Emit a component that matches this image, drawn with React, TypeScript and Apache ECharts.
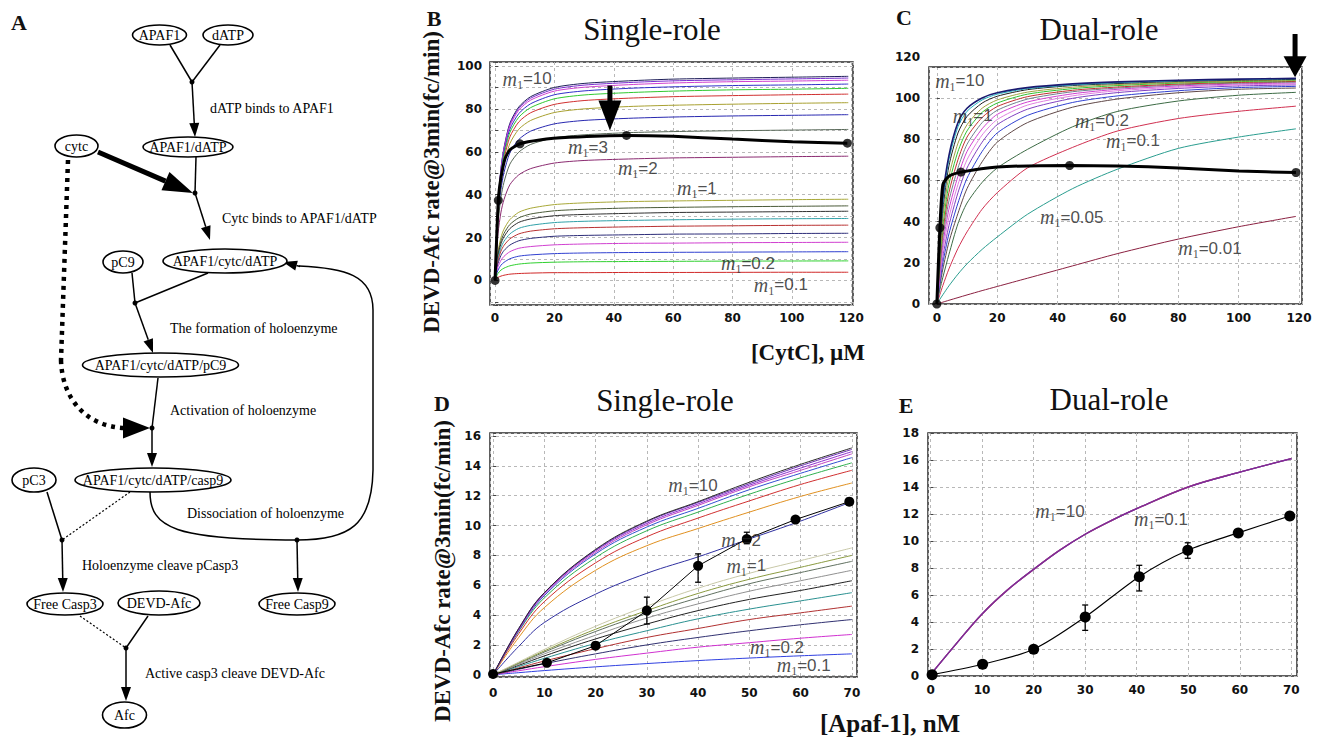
import React, { useEffect, useRef } from 'react';
import * as echarts from 'echarts';

// ---------------- Panel B : Single-role, rate vs [CytC] ----------------
const xB = [0, 0.5, 1, 2, 3, 5, 8, 12, 20, 30, 45, 60, 80, 100, 119];
const bValues: number[][] = [
  [0, 20.0, 36.2, 52.4, 61.9, 73.4, 81.0, 85.8, 90.1, 92.0, 93.2, 94.0, 94.5, 94.9, 95.3],
  [0, 19.8, 35.9, 52.0, 61.4, 72.8, 80.3, 85.1, 89.3, 91.2, 92.4, 93.2, 93.7, 94.1, 94.5],
  [0, 19.6, 35.5, 51.4, 60.8, 72.0, 79.5, 84.2, 88.4, 90.2, 91.4, 92.2, 92.8, 93.1, 93.5],
  [0, 19.3, 34.8, 50.4, 59.6, 70.6, 77.9, 82.5, 86.7, 88.5, 89.7, 90.4, 91.0, 91.3, 91.7],
  [0, 18.8, 34.1, 49.3, 58.3, 69.1, 76.2, 80.7, 84.8, 86.6, 87.7, 88.4, 89.0, 89.3, 89.7],
  [0, 18.3, 33.1, 47.9, 56.6, 67.0, 74.0, 78.3, 82.2, 84.0, 85.1, 85.8, 86.3, 86.7, 87.0],
  [0, 17.4, 31.5, 45.7, 54.0, 63.9, 70.6, 74.7, 78.4, 80.1, 81.2, 81.8, 82.3, 82.7, 83.0],
  [0, 16.3, 29.4, 42.6, 50.3, 59.6, 65.8, 69.7, 73.1, 74.7, 75.7, 76.3, 76.8, 77.1, 77.4],
  [0, 14.8, 26.8, 38.8, 45.8, 54.3, 59.9, 63.5, 66.6, 68.0, 69.0, 69.5, 69.9, 70.2, 70.5],
  [0, 12.2, 22.0, 31.9, 37.7, 44.7, 49.3, 52.2, 54.8, 56.0, 56.7, 57.2, 57.5, 57.8, 58.0],
  [0, 7.6, 13.6, 20.1, 23.9, 28.4, 31.8, 33.7, 35.4, 36.2, 36.8, 37.1, 37.4, 37.7, 37.9],
  [0, 7.0, 12.5, 18.4, 21.9, 26.1, 29.2, 31.0, 32.5, 33.2, 33.8, 34.1, 34.4, 34.6, 34.8],
  [0, 6.5, 11.6, 17.1, 20.3, 24.2, 27.1, 28.7, 30.2, 30.8, 31.3, 31.7, 31.9, 32.1, 32.3],
  [0, 5.8, 10.4, 15.3, 18.2, 21.7, 24.3, 25.7, 27.0, 27.6, 28.0, 28.3, 28.6, 28.8, 28.9],
  [0, 5.2, 9.3, 13.7, 16.3, 19.4, 21.7, 23.0, 24.1, 24.6, 25.0, 25.3, 25.5, 25.7, 25.8],
  [0, 4.4, 7.9, 11.7, 13.9, 16.5, 18.5, 19.6, 20.6, 21.0, 21.3, 21.6, 21.7, 21.9, 22.0],
  [0, 3.6, 6.4, 9.4, 11.2, 13.4, 15.0, 15.8, 16.6, 17.0, 17.3, 17.4, 17.6, 17.7, 17.8],
  [0, 2.7, 4.8, 7.1, 8.4, 10.1, 11.3, 11.9, 12.5, 12.8, 13.0, 13.1, 13.2, 13.3, 13.4],
  [0, 1.8, 3.3, 4.8, 5.7, 6.8, 7.6, 8.1, 8.5, 8.7, 8.8, 8.9, 9.0, 9.05, 9.1],
  [0, 0.8, 1.4, 2.0, 2.4, 2.9, 3.2, 3.4, 3.6, 3.6, 3.7, 3.7, 3.75, 3.8, 3.8],
];
const bColors = [
  '#20205a', '#7b2fd0', '#d040d0', '#3030c8', '#30c830', '#d03030', '#a8a030', '#2828b0', '#586858', '#8a2a70',
  '#a8a838', '#4a5a38', '#303030', '#30a0a8', '#b83030', '#2c2c78', '#d040d0', '#3040d0', '#30d030', '#d02828',
];
const bBlackX = [0, 1.1, 2, 3.4, 5, 8.4, 15, 25, 44.3, 60, 80, 100, 118.7];
const bBlackY = [0, 37.4, 48, 57, 61, 63.8, 65.6, 66.8, 67.7, 67.3, 66, 64.8, 64.1];
const bDots = [[0, 0], [1.1, 37.4], [8.4, 63.8], [44.3, 67.7], [118.7, 64.1]];
const bLabels: [number, number, string][] = [
  [10.8, 94.2, '10'], [31.3, 62.1, '3'], [48.1, 52.3, '2'], [68, 43, '1'], [85.2, 8.1, '0.2'], [96.3, -2.1, '0.1'],
];
const bArrow = { x: 38.7, top: 91, tip: 70 };

// ---------------- Panel C : Dual-role, rate vs [CytC] ----------------
const xC = [0, 1, 2, 4, 7, 10, 15, 20, 30, 45, 60, 80, 100, 119];
const cValues: number[][] = [
  [0, 0.45, 0.9, 1.8, 3.1, 4.4, 6.5, 8.5, 12.5, 18.5, 24.5, 31.5, 37.5, 42.5],
  [0, 2.3, 4.5, 8.8, 14.5, 19.5, 26.5, 32.5, 43.5, 56, 65.5, 75.5, 81, 85],
  [0, 4.5, 9, 17, 27, 35, 46, 54, 66, 76, 84, 90, 93.5, 96],
  [0, 7, 13, 24, 39, 49, 59, 66, 75, 86, 93.5, 98.5, 101.3, 102.7],
  [0, 9, 17, 30, 44, 56, 69, 78.5, 88, 95.5, 99.5, 102.5, 104.2, 104.8],
  [0, 10, 20, 34, 49, 61, 74, 83, 91.5, 97.8, 101, 103.5, 105, 105.6],
  [0, 12, 23, 38, 54, 66, 78.5, 87, 94.5, 99.8, 102.6, 104.6, 105.8, 106.3],
  [0, 13, 26, 42, 58, 70, 82, 89.5, 96.5, 101, 103.5, 105.2, 106.3, 106.8],
  [0, 15, 29, 46, 62, 74, 85, 92, 98, 102, 104.2, 105.8, 106.8, 107.3],
  [0, 17, 32, 50, 66, 77.5, 88, 94, 99.4, 103, 104.8, 106.3, 107.2, 107.7],
  [0, 19, 35, 54, 70, 81, 90.5, 95.8, 100.6, 103.7, 105.3, 106.7, 107.5, 108],
  [0, 21, 38, 58, 74, 84, 93, 97.5, 101.8, 104.5, 106, 107.2, 107.9, 108.4],
  [0, 23, 42, 62, 78, 87, 95, 99, 102.8, 105.2, 106.5, 107.5, 108.2, 108.7],
  [0, 26, 46, 67, 83, 91, 97.5, 100.8, 104, 106, 107, 108, 108.6, 109],
  [0, 28, 49, 70, 86, 93.5, 99, 101.8, 104.5, 106.3, 107.4, 108.3, 108.9, 109.3],
  [0, 30, 52, 72, 88, 95, 100, 102.5, 105, 106.8, 107.8, 108.6, 109.1, 109.5],
];
const cColors = [
  '#8a2040', '#2a9d8f', '#d03050', '#3d6b45', '#604848', '#3040d0', '#8040c0', '#e080e0', '#d040d0',
  '#708090', '#c03030', '#30c030', '#a0a040', '#202020', '#20b0c0', '#1a1a70',
];
const cBlackX = [0, 1, 2, 4, 8, 20, 44, 60, 80, 100, 119];
const cBlackY = [0, 37, 58, 62, 64, 66.5, 67.2, 67, 66, 64.5, 63.8];
const cDots = [[0, 0], [1, 37], [8, 64], [44, 67.2], [119, 63.8]];
const cLabels: [number, number, string][] = [
  [7.6, 108.4, '10'], [11.9, 91.4, '1'], [54.7, 89, '0.2'], [65, 79.3, '0.1'], [44.7, 42.1, '0.05'], [90.5, 27.1, '0.01'],
];
const cArrow = { x: 118.7, top: 131, tip: 110 };

// ---------------- Panel D : Single-role, rate vs [Apaf-1] ----------------
const xD = [0, 5, 10, 20, 30, 40, 50, 60, 70];
const dValues: number[][] = [
  [0, 0.14, 0.28, 0.53, 0.75, 0.95, 1.12, 1.27, 1.4],
  [0, 0.27, 0.54, 1.03, 1.45, 1.85, 2.15, 2.45, 2.7],
  [0, 0.37, 0.74, 1.4, 2.0, 2.5, 2.95, 3.35, 3.7],
  [0, 0.46, 0.92, 1.75, 2.5, 3.1, 3.7, 4.15, 4.6],
  [0, 0.55, 1.1, 2.1, 2.95, 3.75, 4.4, 4.95, 5.5],
  [0, 0.63, 1.26, 2.4, 3.4, 4.3, 5.05, 5.65, 6.3],
  [0, 0.7, 1.4, 2.65, 3.8, 4.75, 5.6, 6.3, 7.0],
  [0, 0.76, 1.52, 2.9, 4.1, 5.15, 6.1, 6.85, 7.6],
  [0, 0.8, 1.6, 3.05, 4.3, 5.45, 6.4, 7.2, 8.0],
  [0, 0.85, 1.7, 3.25, 4.6, 5.8, 6.8, 7.65, 8.5],
  [0, 1.9, 3.5, 5.4, 6.8, 7.9, 9.1, 10.3, 11.6],
  [0, 2.5, 4.5, 7.0, 8.65, 9.8, 10.9, 11.95, 12.85],
  [0, 2.75, 4.9, 7.5, 9.25, 10.5, 11.65, 12.75, 13.7],
  [0, 2.9, 5.15, 7.85, 9.65, 10.9, 12.1, 13.2, 14.2],
  [0, 2.95, 5.3, 8.1, 9.9, 11.15, 12.4, 13.5, 14.55],
  [0, 3.0, 5.4, 8.2, 10.05, 11.35, 12.6, 13.7, 14.8],
  [0, 3.05, 5.45, 8.3, 10.15, 11.45, 12.7, 13.85, 14.95],
  [0, 3.1, 5.5, 8.35, 10.25, 11.55, 12.8, 14.0, 15.1],
  [0, 3.1, 5.5, 8.4, 10.3, 11.6, 12.9, 14.1, 15.2],
];
const dColors = [
  '#3040e0', '#d030d0', '#303070', '#b03030', '#2a9090', '#202020', '#909090', '#607060', '#8a9a40', '#c8c8a8',
  '#3030a0', '#e09020', '#d03030', '#30b050', '#3050d0', '#c040c0', '#9030d0', '#6a2bb0', '#2a2a2a',
];
const dDataX = [0, 10.5, 20, 30, 40, 49.5, 59, 69.5];
const dDataY = [0.05, 0.8, 1.95, 4.3, 7.3, 9.1, 10.4, 11.6];
const dErr = [[30, 3.4, 5.2], [40, 6.2, 8.1], [49.5, 8.78, 9.55]];
const dLabels: [number, number, string][] = [
  [39, 12.7, '10'], [48.4, 9.0, '2'], [49.4, 7.3, '1'], [55.4, 1.84, '0.2'], [60.6, 0.64, '0.1'],
];

// ---------------- Panel E : Dual-role, rate vs [Apaf-1] ----------------
const xE = [0, 5, 10, 15, 20, 25, 30, 35, 40, 50, 60, 70];
const eTop = [0.1, 2.4, 4.6, 6.4, 7.9, 9.3, 10.5, 11.5, 12.4, 14.0, 15.1, 16.1];
const eDataX = [0.3, 10.1, 20, 30, 40.5, 49.9, 59.7, 69.7];
const eDataY = [0.1, 0.87, 1.98, 4.37, 7.36, 9.31, 10.6, 11.85];
const eErr = [[30, 3.38, 5.26], [40.5, 6.3, 8.2], [49.9, 8.72, 9.87]];
const eLabels: [number, number, string][] = [[25.1, 12.2, '10'], [44.7, 11.6, '0.1']];

// ---------------- Panel A : reaction scheme ----------------
const aNodes: [string, number, number, number, number][] = [
  ['APAF1', 159.5, 35, 27, 10],
  ['dATP', 228, 35, 25, 10],
  ['cytc', 76.5, 146, 21.5, 11],
  ['APAF1/dATP', 188, 147, 45, 10],
  ['pC9', 123, 262, 20, 11],
  ['APAF1/cytc/dATP', 225, 261, 62, 12],
  ['APAF1/cytc/dATP/pC9', 160.5, 365, 78, 12],
  ['APAF1/cytc/dATP/casp9', 153, 480, 78, 12],
  ['pC3', 34, 480, 22, 12],
  ['Free Casp3', 65, 604, 38, 11],
  ['DEVD-Afc', 159, 603, 41, 12],
  ['Free Casp9', 297, 604, 38, 11],
  ['Afc', 124.5, 715, 22, 13],
];
const aLabels: [string, number, number][] = [
  ['dATP binds to APAF1', 210, 108],
  ['Cytc binds to APAF1/dATP', 222, 218],
  ['The formation of holoenzyme', 170, 328],
  ['Activation of holoenzyme', 170, 410],
  ['Dissociation of holoenzyme', 187, 513],
  ['Holoenzyme cleave pCasp3', 82, 565],
  ['Active casp3 cleave DEVD-Afc', 145, 673],
];

const SERIF = 'Liberation Serif';
const TICK = { fontFamily: 'DejaVu Sans', fontWeight: 'bold' as const, fontSize: 12, color: '#111' };
const RICH = {
  m: { fontFamily: SERIF, fontStyle: 'italic', fontSize: 20, color: '#222', lineHeight: 24, verticalAlign: 'middle' },
  s: { fontFamily: SERIF, fontSize: 12, color: '#222', lineHeight: 12, verticalAlign: 'bottom' },
  n: { fontFamily: 'Liberation Sans', fontSize: 17, color: '#222', lineHeight: 24, verticalAlign: 'middle' },
};

const fmt = (step: number) => (v: number) => {
  const r = v / step;
  return Math.abs(r - Math.round(r)) < 1e-6 ? String(Math.round(v)) : '';
};

const splitStyle = { show: true, lineStyle: { color: '#b8b8b8', type: [3, 3] as any, width: 1 } };
const mkX = (gi: number, min: number, max: number, split: number, step: number, margin: number) => ({
  type: 'value', gridIndex: gi, min, max, splitNumber: split,
  axisLine: { show: false }, axisTick: { show: false }, splitLine: splitStyle,
  axisLabel: { ...TICK, margin, formatter: fmt(step) },
});
const mkY = (gi: number, min: number, max: number, split: number, step: number, margin: number) => ({
  type: 'value', gridIndex: gi, min, max, splitNumber: split,
  axisLine: { show: false },
  axisTick: { show: true, inside: true, length: 3, lineStyle: { color: '#444' } },
  splitLine: splitStyle,
  axisLabel: { ...TICK, margin, formatter: fmt(step) },
});

const curve = (gi: number, xs: number[], ys: number[], color: string, width = 1, smooth: any = 0.25) => ({
  type: 'line', xAxisIndex: gi, yAxisIndex: gi, data: xs.map((x, i) => [x, ys[i]]),
  smooth, symbol: 'none', showSymbol: false, silent: true,
  lineStyle: { color, width }, z: 2,
});
const dots = (gi: number, pts: number[][], size: number) => ({
  type: 'scatter', xAxisIndex: gi, yAxisIndex: gi, data: pts, symbolSize: size, silent: true,
  itemStyle: { color: '#000' }, z: 5,
});
const ann = (gi: number, labels: [number, number, string][]) => ({
  type: 'scatter', xAxisIndex: gi, yAxisIndex: gi, symbolSize: 1, silent: true, z: 8,
  itemStyle: { color: 'rgba(0,0,0,0)' },
  data: labels.map((l) => ({ value: [l[0], l[1]], name: l[2] })),
  label: { show: true, position: 'inside', formatter: (p: any) => `{m|m}{s|1}{n|=${p.name}}`, rich: RICH },
});
const errBars = (gi: number, errs: number[][]) => ({
  type: 'custom', xAxisIndex: gi, yAxisIndex: gi, silent: true, z: 6,
  data: errs, encode: { x: 0, y: [1, 2] },
  renderItem: (_p: any, api: any) => {
    const x = api.value(0);
    const a = api.coord([x, api.value(1)]);
    const b = api.coord([x, api.value(2)]);
    const st = { stroke: '#000', lineWidth: 1.3 };
    return {
      type: 'group',
      children: [
        { type: 'line', shape: { x1: a[0], y1: a[1], x2: b[0], y2: b[1] }, style: st },
        { type: 'line', shape: { x1: a[0] - 3, y1: a[1], x2: a[0] + 3, y2: a[1] }, style: st },
        { type: 'line', shape: { x1: b[0] - 3, y1: b[1], x2: b[0] + 3, y2: b[1] }, style: st },
      ],
    };
  },
});

function panelA(): any[] {
  const g: any[] = [];
  const S = { stroke: '#000' };
  const line = (x1: number, y1: number, x2: number, y2: number, w = 1.5, dash?: number[]) =>
    g.push({ type: 'line', z: 1, silent: true, shape: { x1, y1, x2, y2 }, style: { ...S, lineWidth: w, lineDash: dash } });
  const head = (x1: number, y1: number, x2: number, y2: number, len: number, wid: number) => {
    const L = Math.hypot(x2 - x1, y2 - y1);
    const ux = (x2 - x1) / L, uy = (y2 - y1) / L;
    const bx = x2 - ux * len, by = y2 - uy * len;
    const px = -uy * wid / 2, py = ux * wid / 2;
    g.push({ type: 'polygon', z: 1, silent: true, shape: { points: [[x2, y2], [bx + px, by + py], [bx - px, by - py]] }, style: { fill: '#000' } });
    return [bx, by];
  };
  const arr = (x1: number, y1: number, x2: number, y2: number, w = 1.5, len = 14, wid = 10) => {
    const [bx, by] = head(x1, y1, x2, y2, len, wid);
    line(x1, y1, bx, by, w);
  };
  const dot = (x: number, y: number) =>
    g.push({ type: 'circle', z: 1, silent: true, shape: { cx: x, cy: y, r: 2.5 }, style: { fill: '#000' } });
  const bez = (x1: number, y1: number, c1x: number, c1y: number, c2x: number, c2y: number, x2: number, y2: number, w = 1.5, dash?: number[]) =>
    g.push({ type: 'bezierCurve', z: 1, silent: true, shape: { x1, y1, x2, y2, cpx1: c1x, cpy1: c1y, cpx2: c2x, cpy2: c2y }, style: { ...S, fill: null, lineWidth: w, lineDash: dash } });

  line(170, 45, 192, 82); line(220, 45, 192, 82); dot(192, 82); arr(192, 82, 195, 137);
  line(196, 157, 195, 193); arr(98, 152, 193, 193, 5, 30, 20); dot(195, 193); arr(195, 193, 210, 240);
  line(132, 273, 135, 303); line(208, 273, 135, 303); dot(135, 303); arr(135, 303, 153, 353);
  line(158, 378, 152, 428); dot(152, 428); arr(152, 428, 152, 467);
  line(68, 160, 61, 360, 4.5, [4, 5]); bez(61, 360, 62, 398, 85, 426, 124, 428, 4.5, [4, 5]); head(118, 428, 150, 428, 27, 21);
  line(47, 492, 62, 540); line(130, 492, 62, 540, 1.2, [2, 2]); dot(62, 540); arr(62, 540, 63, 592);
  bez(150, 492, 150, 528, 175, 540, 297, 540); dot(297, 540);
  bez(297, 540, 350, 540, 372, 525, 373, 470); line(373, 470, 373, 310);
  bez(373, 310, 373, 275, 345, 268, 299, 266); arr(300, 266.5, 283, 262, 1.5, 14, 10);
  arr(297, 540, 298, 592);
  line(80, 616, 126, 648, 1.2, [2, 2]); line(148, 616, 126, 648); dot(126, 648); arr(126, 648, 126, 701);

  aNodes.forEach(([t, cx, cy, rx, ry]) => {
    g.push({ type: 'ellipse', z: 2, silent: true, shape: { cx, cy, rx, ry }, style: { fill: '#fff', stroke: '#000', lineWidth: 1.6 } });
    g.push({ type: 'text', z: 3, silent: true, x: cx, y: cy, style: { text: t, fontFamily: SERIF, fontSize: 14, fill: '#000', align: 'center', verticalAlign: 'middle' } });
  });
  aLabels.forEach(([t, x, y]) =>
    g.push({ type: 'text', z: 3, silent: true, x, y, style: { text: t, fontFamily: SERIF, fontSize: 14, fill: '#000', align: 'left', verticalAlign: 'middle' } }));
  return g;
}

const txt = (text: string, x: number, y: number, size: number, weight = 'normal', rotation = 0) => ({
  type: 'text', x, y, rotation, silent: true, z: 10,
  style: { text, fontFamily: SERIF, fontSize: size, fontWeight: weight, fill: '#111', align: 'center', verticalAlign: 'middle' },
});

export default function App() {
  const ref = useRef<HTMLDivElement>(null);
  useEffect(() => {
    document.body.style.margin = '0';
    const chart = echarts.init(ref.current!, null, { renderer: 'svg' });
    const gridBase = { show: true, borderColor: '#2a2a2a', borderWidth: 1.5, backgroundColor: 'transparent', containLabel: false, outerBoundsMode: 'none' };
    const series: any[] = [];
    bValues.forEach((v, i) => series.push(curve(0, xB, v, bColors[i])));
    series.push(curve(0, bBlackX, bBlackY, '#000', 3, 0.2), dots(0, bDots, 9), ann(0, bLabels));
    cValues.forEach((v, i) => series.push(curve(1, xC, v, cColors[i], i === cValues.length - 1 ? 1.6 : 1)));
    series.push(curve(1, cBlackX, cBlackY, '#000', 3, 0.2), dots(1, cDots, 9), ann(1, cLabels));
    dValues.forEach((v, i) => series.push(curve(2, xD, v, dColors[i], 1, 0.4)));
    series.push(
      { ...curve(2, dDataX, dDataY, '#000', 1, false), symbol: 'circle', showSymbol: true, symbolSize: 10, itemStyle: { color: '#000' }, z: 6 },
      errBars(2, dErr), ann(2, dLabels),
    );
    series.push(
      curve(3, xE, eTop, '#3a3acf', 1.4, 0.35),
      curve(3, xE, eTop, '#c8406a', 1.4, 0.35),
      curve(3, xE, eTop, '#7a2a9a', 1.2, 0.35),
      { ...curve(3, eDataX, eDataY, '#000', 1.2, 0.3), symbol: 'circle', showSymbol: true, symbolSize: 11, itemStyle: { color: '#000' }, z: 6 },
      errBars(3, eErr), ann(3, eLabels),
    );

    chart.setOption({
      animation: false,
      backgroundColor: '#fff',
      grid: [
        { ...gridBase, left: 490, top: 62, width: 363, height: 243 },
        { ...gridBase, left: 929, top: 67, width: 373, height: 237 },
        { ...gridBase, left: 490, top: 433, width: 367, height: 244 },
        { ...gridBase, left: 928, top: 433, width: 369, height: 243 },
      ],
      xAxis: [
        mkX(0, -1.7, 120.6, 6, 20, 7),
        mkX(1, -2.6, 121, 6, 20, 8),
        mkX(2, -0.6, 71, 7, 10, 10),
        mkX(3, -0.5, 71.1, 7, 10, 8),
      ],
      yAxis: [
        mkY(0, -11.5, 102, 11, 20, 8),
        mkY(1, 0, 115, 6, 20, 9),
        mkY(2, -0.15, 16.2, 8, 2, 9),
        mkY(3, 0, 18, 9, 2, 9),
      ],
      series,
    });

    const P = (gi: number, x: number, y: number) => chart.convertToPixel({ gridIndex: gi } as any, [x, y]) as number[];
    const bigArrow = (gi: number, a: { x: number; top: number; tip: number }, headH: number) => {
      const tip = P(gi, a.x, a.tip);
      const top = P(gi, a.x, a.top);
      const baseY = tip[1] - headH;
      return [
        { type: 'rect', z: 9, silent: true, shape: { x: tip[0] - 2.5, y: top[1], width: 5, height: baseY - top[1] + 1 }, style: { fill: '#000' } },
        { type: 'polygon', z: 9, silent: true, shape: { points: [[tip[0], tip[1]], [tip[0] - 11.5, baseY], [tip[0] + 11.5, baseY]] }, style: { fill: '#000' } },
      ];
    };
    const c120 = P(1, -2.6, 120);
    chart.setOption({
      graphic: [
        ...panelA(),
        ...bigArrow(0, bArrow, 30),
        ...bigArrow(1, cArrow, 21),
        { type: 'text', x: c120[0] - 9, y: c120[1], silent: true, style: { text: '120', ...TICK, fill: '#111', align: 'right', verticalAlign: 'middle' } },
        txt('A', 19, 22, 22, 'bold'),
        txt('B', 434, 18, 22, 'bold'),
        txt('C', 904, 17, 22, 'bold'),
        txt('D', 442, 403, 22, 'bold'),
        txt('E', 906, 405, 22, 'bold'),
        txt('Single-role', 652, 29, 31),
        txt('Dual-role', 1099, 29, 31),
        txt('Single-role', 665, 400, 31),
        txt('Dual-role', 1109, 399, 31),
        txt('DEVD-Afc rate@3min(fc/min)', 431, 182, 23, 'bold', Math.PI / 2),
        txt('DEVD-Afc rate@3min(fc/min)', 442, 571, 23, 'bold', Math.PI / 2),
        txt('[CytC], \u00b5M', 808, 352, 23, 'bold'),
        txt('[Apaf-1], nM', 890, 723, 25, 'bold'),
      ],
    });
    return () => chart.dispose();
  }, []);
  return <div ref={ref} style={{ position: 'absolute', left: 0, top: 0, width: 1322, height: 739, background: '#fff' }} />;
}
